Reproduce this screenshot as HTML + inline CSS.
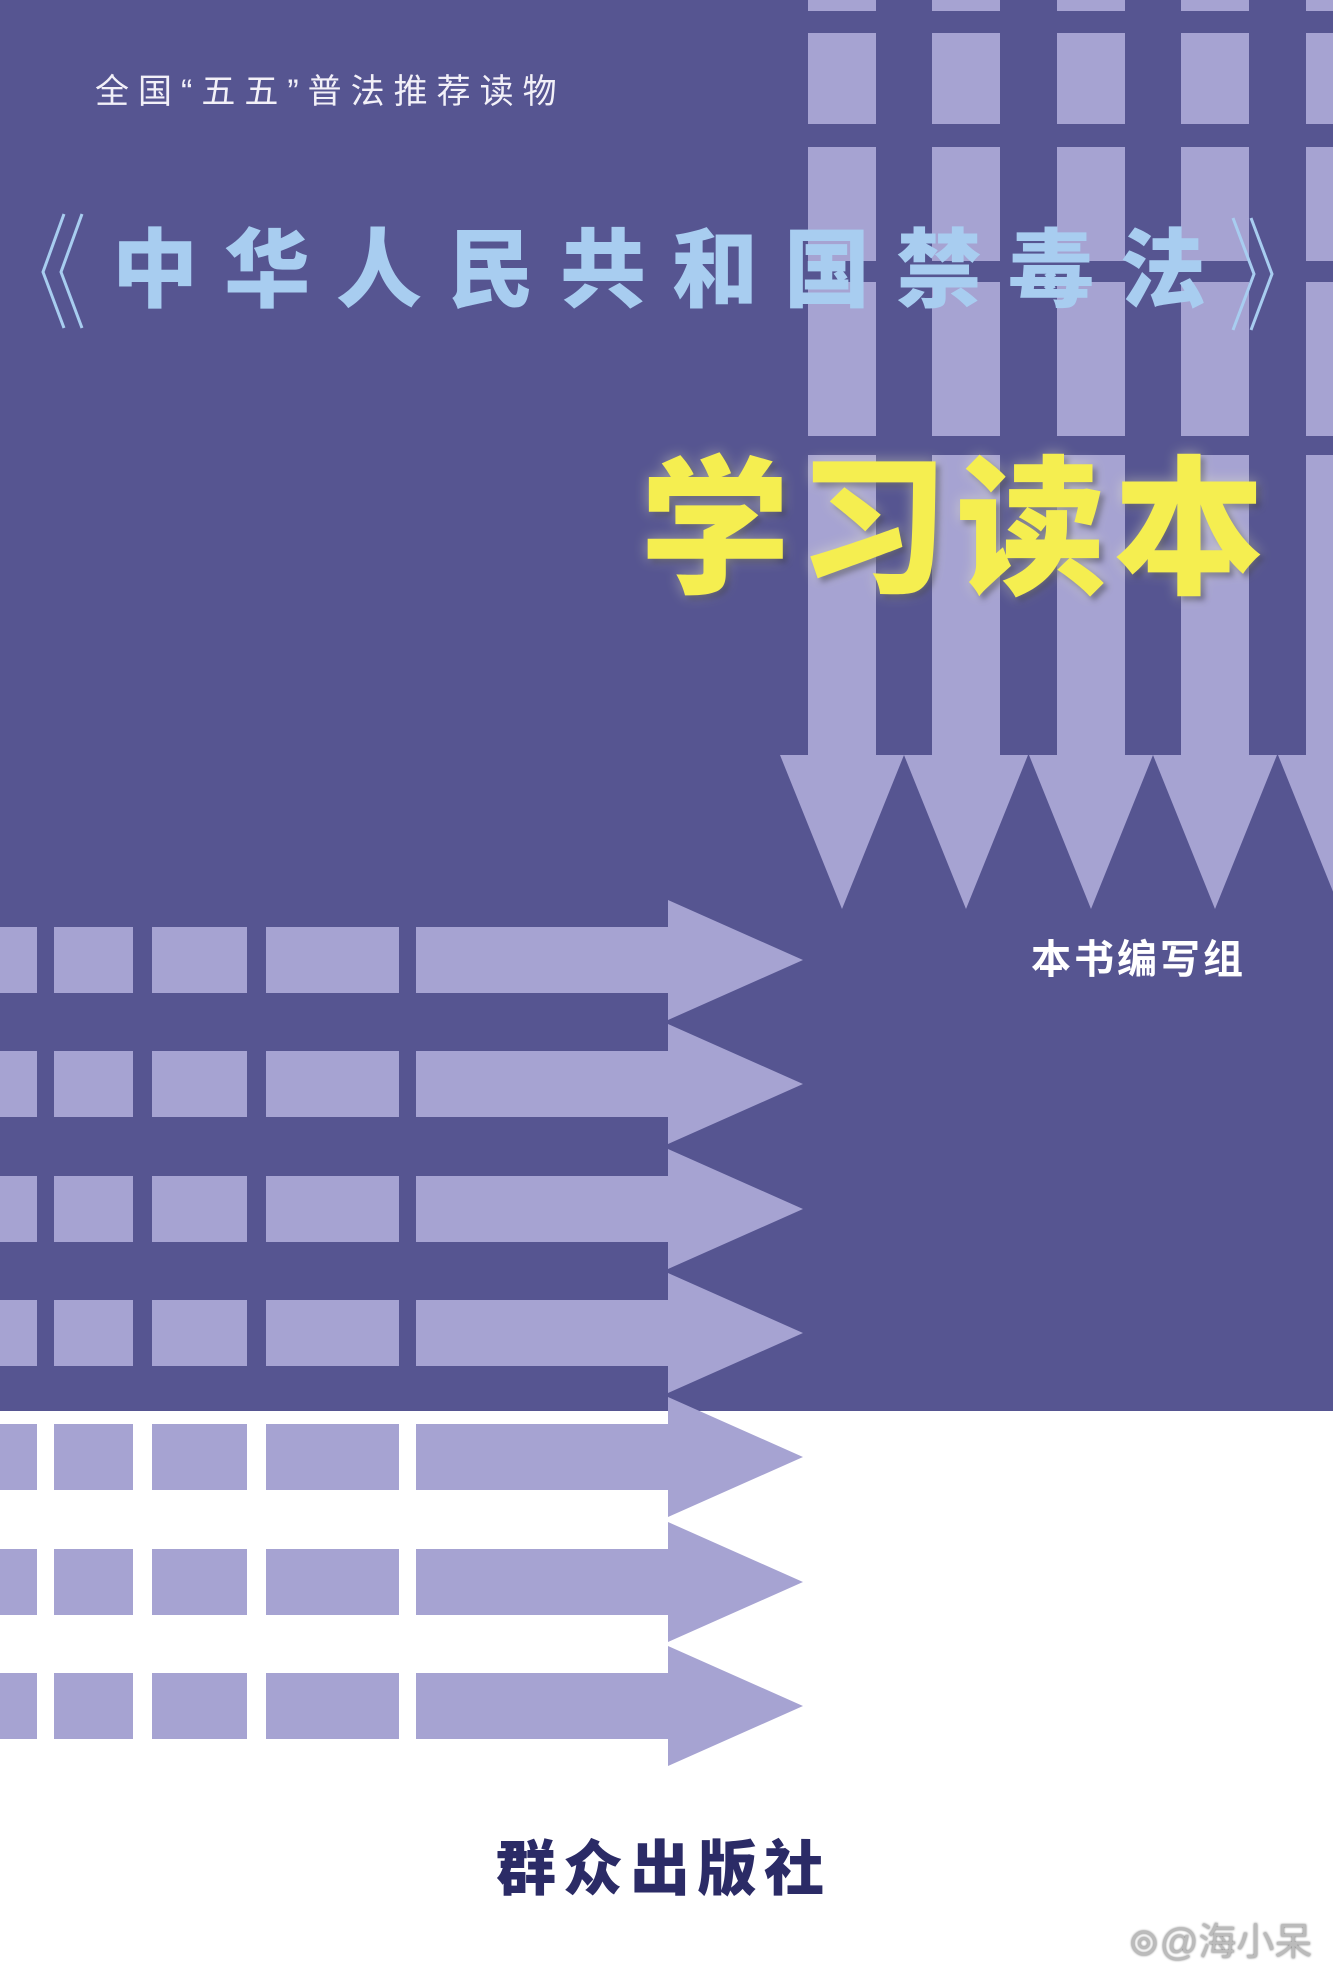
<!DOCTYPE html>
<html><head><meta charset="utf-8"><style>
html,body{margin:0;padding:0}
body{width:1333px;height:1977px;position:relative;overflow:hidden;background:#fff;font-family:"Liberation Sans","Noto Sans CJK SC",sans-serif}
.t{position:absolute;white-space:nowrap;line-height:1}
</style></head><body>
<svg width="1333" height="1977" style="position:absolute;left:0;top:0" xmlns="http://www.w3.org/2000/svg">
<rect x="0" y="0" width="1333" height="1411" fill="#565591"/>
<g id="down-arrows" fill="#a6a3d2"></g>
<g id="right-arrows" fill="#a6a3d2"></g>
<g stroke="#a8cdf0" stroke-width="3" fill="none">
<polyline points="64,214 43,272 64,328"/><polyline points="82,214 61,272 82,328"/>
<polyline points="1233,218 1254,274 1233,330"/><polyline points="1251,218 1272,274 1251,330"/>
</g>
</svg>
<script>
const ns='http://www.w3.org/2000/svg';
const colCenters=[842,966,1091,1215,1340];
const vSegs=[[0,11],[33,124],[147,261],[282,436]];
const dg=document.getElementById('down-arrows');
colCenters.forEach(c=>{
  vSegs.forEach(s=>{const r=document.createElementNS(ns,'rect');r.setAttribute('x',c-34);r.setAttribute('y',s[0]);r.setAttribute('width',68);r.setAttribute('height',s[1]-s[0]);
  
  
  dg.appendChild(r);});
  const p=document.createElementNS(ns,'polygon');
  p.setAttribute('points',`${c-34},455 ${c+34},455 ${c+34},755 ${c+62},755 ${c},909 ${c-62},755 ${c-34},755`);
  
  
  dg.appendChild(p);
});
const rowCenters=[960,1084,1209,1333,1457,1582,1706];
const hSegs=[[0,37],[54,133],[152,247],[266,399]];
const rg=document.getElementById('right-arrows');
rowCenters.forEach(c=>{
  hSegs.forEach(s=>{const r=document.createElementNS(ns,'rect');r.setAttribute('x',s[0]);r.setAttribute('y',c-33);r.setAttribute('width',s[1]-s[0]);r.setAttribute('height',66);
  
  
  rg.appendChild(r);});
  const p=document.createElementNS(ns,'polygon');
  p.setAttribute('points',`416,${c-33} 668,${c-33} 668,${c-60} 803,${c} 668,${c+60} 668,${c+33} 416,${c+33}`);
  
  
  rg.appendChild(p);
});
</script>
<div class="t" style="left:95px;top:75px;font-size:34px;color:#f2f0f8;letter-spacing:9px">全国“五五”普法推荐读物</div>
<div class="t" style="left:112px;top:228px;font-size:86px;font-weight:900;color:#a8cdf0;letter-spacing:26px">中华人民共和国禁毒法</div>
<div class="t" style="left:640px;top:455px;font-size:150px;font-weight:900;color:#f5ee50;letter-spacing:8px;text-shadow:0 0 14px rgba(255,255,200,.45),4px 4px 6px rgba(30,30,60,.5)">学习读本</div>
<div class="t" style="left:1031px;top:940px;font-size:40px;font-weight:700;color:#fff;letter-spacing:3px">本书编写组</div>
<div class="t" style="left:496px;top:1840px;font-size:60px;font-weight:900;color:#2b2b66;letter-spacing:7px">群众出版社</div>
<div class="t" style="left:1128px;top:1924px;font-size:38px;color:#bbb;text-shadow:0 0 2px #666">⊚@海小呆</div>
</body></html>
